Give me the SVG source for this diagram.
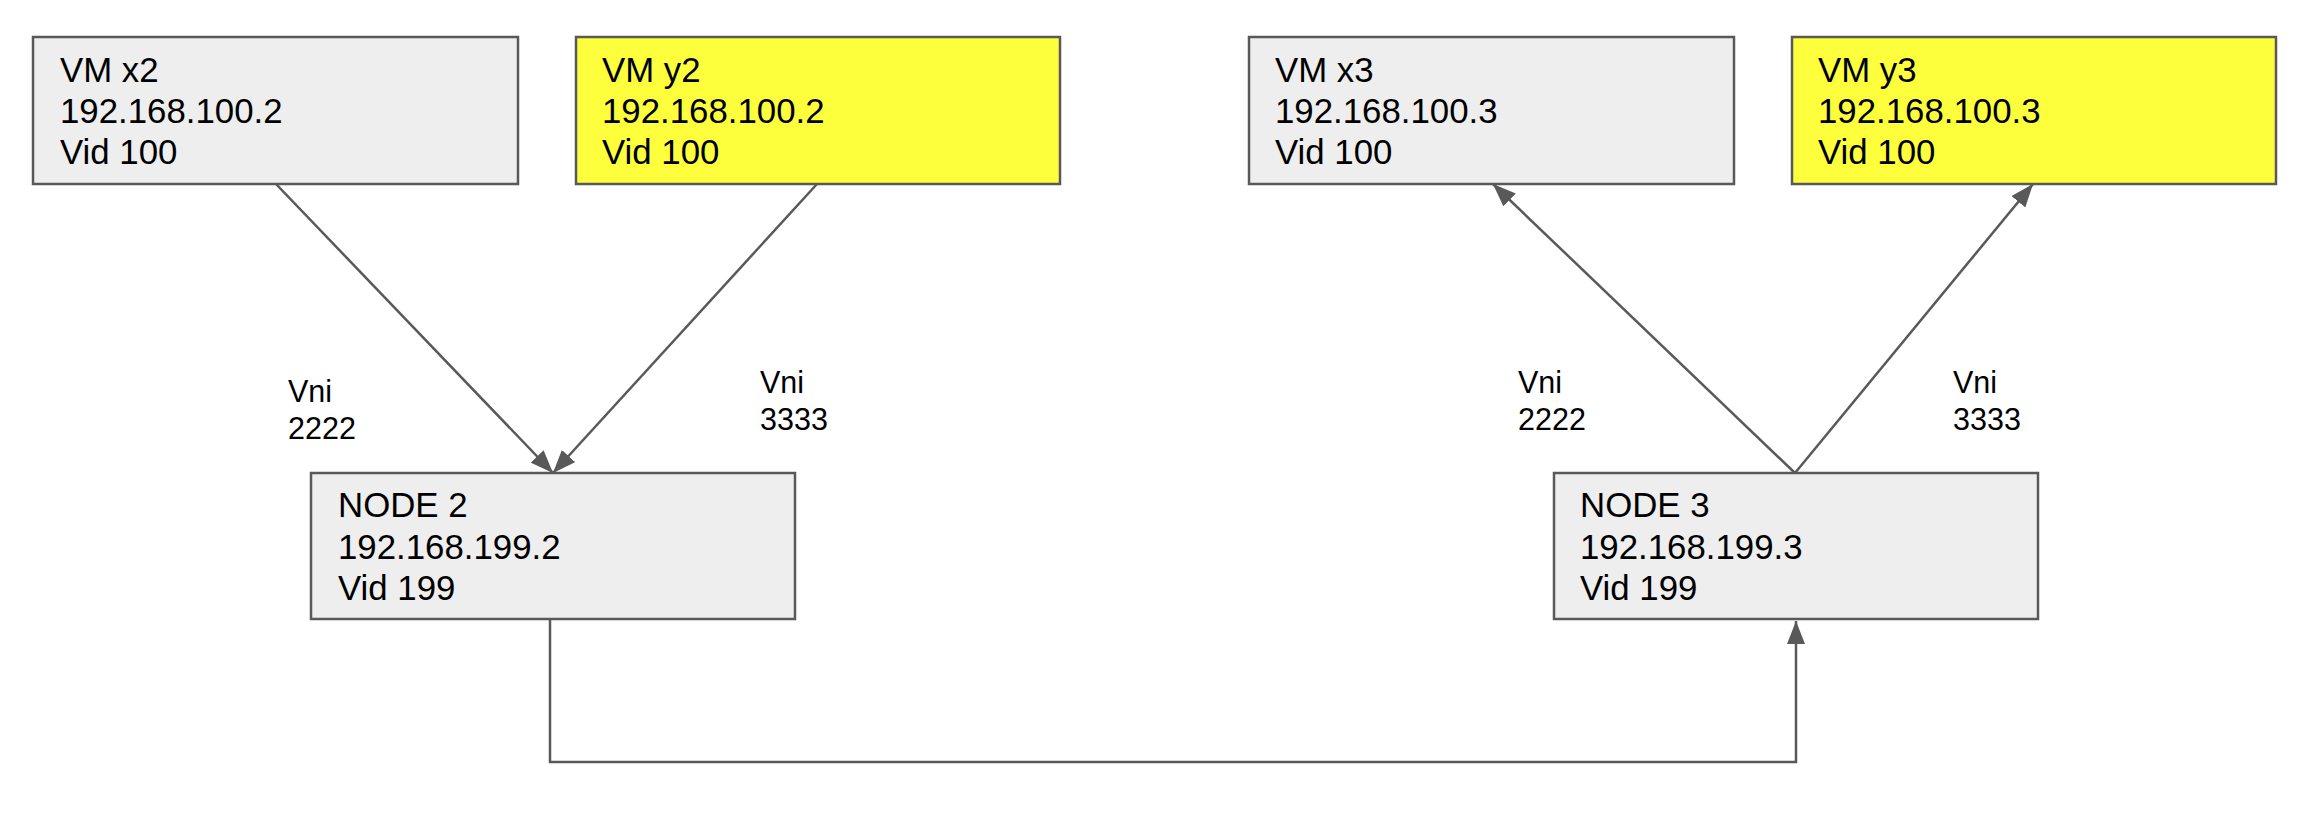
<svg xmlns="http://www.w3.org/2000/svg" width="2300" height="816" viewBox="0 0 2300 816">
<style>
.box{stroke:#595959;stroke-width:2.5}
.gray{fill:#eeeeee}
.yellow{fill:#fdff3d}
.t{font-family:"Liberation Sans",Arial,sans-serif;font-size:34.8px;fill:#000}
.l{font-family:"Liberation Sans",Arial,sans-serif;font-size:30.5px;fill:#000}
.c{fill:none;stroke:#595959;stroke-width:2.5}
</style>
<defs>
<marker id="arr" markerUnits="userSpaceOnUse" markerWidth="24" markerHeight="18" refX="23" refY="9" orient="auto">
<path d="M0,0 L23,9 L0,18 z" fill="#595959"/>
</marker>
</defs>
<rect width="2300" height="816" fill="#ffffff"/>
<g id="connectors">
<line class="c" x1="276" y1="184" x2="553" y2="473" marker-end="url(#arr)"/>
<line class="c" x1="817" y1="184" x2="553" y2="473" marker-end="url(#arr)"/>
<line class="c" x1="1795" y1="473" x2="1493" y2="184" marker-end="url(#arr)"/>
<line class="c" x1="1795" y1="473" x2="2033" y2="184" marker-end="url(#arr)"/>
<polyline class="c" points="550,619 550,762 1796,762 1796,621" marker-end="url(#arr)"/>
</g>
<g id="vmx2">
<rect class="box gray" x="33" y="37" width="485" height="147"/>
<text class="t" x="60" y="82">VM x2</text>
<text class="t" x="60" y="123">192.168.100.2</text>
<text class="t" x="60" y="164">Vid 100</text>
</g>
<g id="vmy2">
<rect class="box yellow" x="576" y="37" width="484" height="147"/>
<text class="t" x="602" y="82">VM y2</text>
<text class="t" x="602" y="123">192.168.100.2</text>
<text class="t" x="602" y="164">Vid 100</text>
</g>
<g id="vmx3">
<rect class="box gray" x="1249" y="37" width="485" height="147"/>
<text class="t" x="1275" y="82">VM x3</text>
<text class="t" x="1275" y="123">192.168.100.3</text>
<text class="t" x="1275" y="164">Vid 100</text>
</g>
<g id="vmy3">
<rect class="box yellow" x="1792" y="37" width="484" height="147"/>
<text class="t" x="1818" y="82">VM y3</text>
<text class="t" x="1818" y="123">192.168.100.3</text>
<text class="t" x="1818" y="164">Vid 100</text>
</g>
<g id="node2">
<rect class="box gray" x="311" y="473" width="484" height="146"/>
<text class="t" x="338" y="517">NODE 2</text>
<text class="t" x="338" y="559">192.168.199.2</text>
<text class="t" x="338" y="600">Vid 199</text>
</g>
<g id="node3">
<rect class="box gray" x="1554" y="473" width="484" height="146"/>
<text class="t" x="1580" y="517">NODE 3</text>
<text class="t" x="1580" y="559">192.168.199.3</text>
<text class="t" x="1580" y="600">Vid 199</text>
</g>
<g id="labels">
<text class="l" x="288" y="402">Vni</text>
<text class="l" x="288" y="439">2222</text>
<text class="l" x="760" y="393">Vni</text>
<text class="l" x="760" y="430">3333</text>
<text class="l" x="1518" y="393">Vni</text>
<text class="l" x="1518" y="430">2222</text>
<text class="l" x="1953" y="393">Vni</text>
<text class="l" x="1953" y="430">3333</text>
</g>
</svg>
